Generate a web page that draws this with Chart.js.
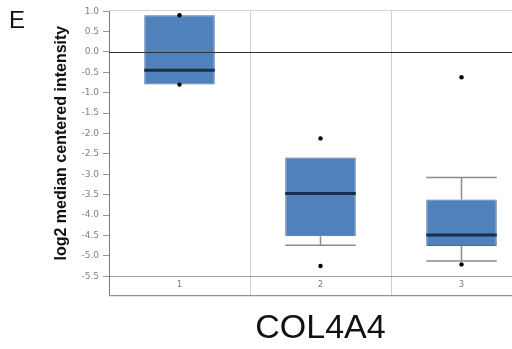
<!DOCTYPE html>
<html>
<head>
<meta charset="utf-8">
<script src="https://cdn.jsdelivr.net/npm/chart.js@4.4.1/dist/chart.umd.min.js"></script>
<style>
  html, body { margin: 0; padding: 0; background: #fff; overflow: hidden; }
  #wrap { position: relative; width: 540px; height: 349px; }
  #panel { position: absolute; left: 9px; top: 6px; font: 24px "Liberation Sans", Arial, sans-serif; color: #111; }
</style>
</head>
<body>
<div id="wrap">
  <canvas id="boxChart" width="540" height="349"></canvas>
  <div id="panel">E</div>
</div>
<script>
// groups and box statistics
const categories = ["1", "2", "3"];
const q1 = [-0.8, -4.52, -4.76];
const q3 = [0.9, -2.59, -3.62];
const medians = [-0.45, -3.47, -4.49];
const whiskerLow = [-0.8, -4.74, -5.13];
const whiskerHigh = [0.9, -2.59, -3.08];
const outliers = [
  { x: "1", y: 0.9 }, { x: "1", y: -0.8 },
  { x: "2", y: -2.12 }, { x: "2", y: -5.25 },
  { x: "3", y: -0.62 }, { x: "3", y: -5.21 }
];
const yTicks = [1.0, 0.5, 0.0, -0.5, -1.0, -1.5, -2.0, -2.5, -3.0, -3.5, -4.0, -4.5, -5.0, -5.5];

// whiskers, zero line over the boxes, then median lines
const boxExtras = {
  id: "boxExtras",
  afterDatasetDraw(chart, args) {
    if (args.index !== 1) return;
    const ctx = chart.ctx;
    const y = chart.scales.y;
    const area = chart.chartArea;
    const bars = args.meta.data;
    ctx.save();
    bars.forEach((bar, i) => {
      const half = bar.width / 2;
      const cx = bar.x;
      ctx.strokeStyle = "#8c8c8c";
      ctx.lineWidth = 1.5;
      if (whiskerHigh[i] > q3[i]) {
        const yTop = y.getPixelForValue(whiskerHigh[i]);
        ctx.beginPath();
        ctx.moveTo(cx, y.getPixelForValue(q3[i]));
        ctx.lineTo(cx, yTop);
        ctx.moveTo(cx - half, yTop);
        ctx.lineTo(cx + half, yTop);
        ctx.stroke();
      }
      if (whiskerLow[i] < q1[i]) {
        const yBot = y.getPixelForValue(whiskerLow[i]);
        ctx.beginPath();
        ctx.moveTo(cx, y.getPixelForValue(q1[i]));
        ctx.lineTo(cx, yBot);
        ctx.moveTo(cx - half, yBot);
        ctx.lineTo(cx + half, yBot);
        ctx.stroke();
      }
    });
    const y0 = Math.round(y.getPixelForValue(0)) + 0.5;
    ctx.strokeStyle = "#333";
    ctx.lineWidth = 1;
    ctx.beginPath();
    ctx.moveTo(area.left, y0);
    ctx.lineTo(area.right, y0);
    ctx.stroke();
    bars.forEach((bar, i) => {
      const half = bar.width / 2;
      ctx.strokeStyle = "#1b2d47";
      ctx.lineWidth = 3;
      const ym = y.getPixelForValue(medians[i]);
      ctx.beginPath();
      ctx.moveTo(bar.x - half, ym);
      ctx.lineTo(bar.x + half, ym);
      ctx.stroke();
    });
    ctx.restore();
  }
};

// top edge, plus left and bottom frame round the label band
const frame = {
  id: "frame",
  afterDraw(chart) {
    const ctx = chart.ctx;
    const area = chart.chartArea;
    const xs = chart.scales.x;
    ctx.save();
    ctx.lineWidth = 1;
    ctx.strokeStyle = "#d4d4d4";
    ctx.beginPath();
    ctx.moveTo(area.left, Math.round(area.top) + 0.5);
    ctx.lineTo(area.right, Math.round(area.top) + 0.5);
    ctx.stroke();
    ctx.strokeStyle = "#7a7a7a";
    ctx.beginPath();
    ctx.moveTo(area.left + 0.5, area.bottom);
    ctx.lineTo(area.left + 0.5, xs.bottom + 0.5);
    ctx.lineTo(area.right, xs.bottom + 0.5);
    ctx.stroke();
    ctx.restore();
  }
};

new Chart(document.getElementById("boxChart"), {
  type: "bar",
  data: {
    labels: categories,
    datasets: [
      {
        type: "line",
        data: outliers,
        showLine: false,
        pointRadius: 2.2,
        pointBackgroundColor: "#000",
        pointBorderColor: "#000",
        pointBorderWidth: 0,
        order: 0
      },
      {
        data: categories.map((c, i) => [q1[i], q3[i]]),
        backgroundColor: "#4f81bd",
        borderColor: "#4a6b93",
        borderWidth: 1,
        borderSkipped: false,
        barPercentage: 0.5,
        categoryPercentage: 1.0,
        order: 1
      }
    ]
  },
  options: {
    responsive: false,
    animation: false,
    layout: { padding: { top: 10, right: 8, left: 0, bottom: 0 } },
    plugins: {
      legend: { display: false },
      tooltip: { enabled: false },
      title: {
        display: true,
        text: "COL4A4",
        position: "bottom",
        fullSize: false,
        color: "#111",
        font: { family: "'Liberation Sans', Arial, sans-serif", size: 34, weight: "normal" },
        padding: { top: 13, bottom: 0 }
      }
    },
    scales: {
      x: {
        offset: true,
        grid: { offset: true, color: "#cfcfcf", tickLength: 19, tickColor: "#cfcfcf" },
        border: { color: "#a0a0a0" },
        ticks: {
          color: "#777",
          padding: -15,
          font: { family: "'DejaVu Sans', sans-serif", size: 8 }
        },
        afterFit(scale) { scale.height = 19; }
      },
      y: {
        min: -5.5,
        max: 1.03,
        afterBuildTicks(scale) { scale.ticks = yTicks.map(v => ({ value: v })); },
        grid: {
          color: "transparent",
          tickColor: "#9a9a9a",
          tickLength: 6
        },
        border: { color: "#7a7a7a" },
        ticks: {
          color: "#808080",
          padding: 4,
          font: { family: "'DejaVu Sans', sans-serif", size: 9 },
          callback: v => Number(v).toFixed(1)
        },
        title: {
          display: true,
          text: "log2 median centered intensity",
          color: "#111",
          font: { family: "'Liberation Sans', Arial, sans-serif", size: 16, weight: "bold" },
          padding: { top: 52, bottom: 0 }
        },
        afterFit(scale) { scale.width = 109; }
      }
    }
  },
  plugins: [boxExtras, frame]
});
</script>
</body>
</html>
